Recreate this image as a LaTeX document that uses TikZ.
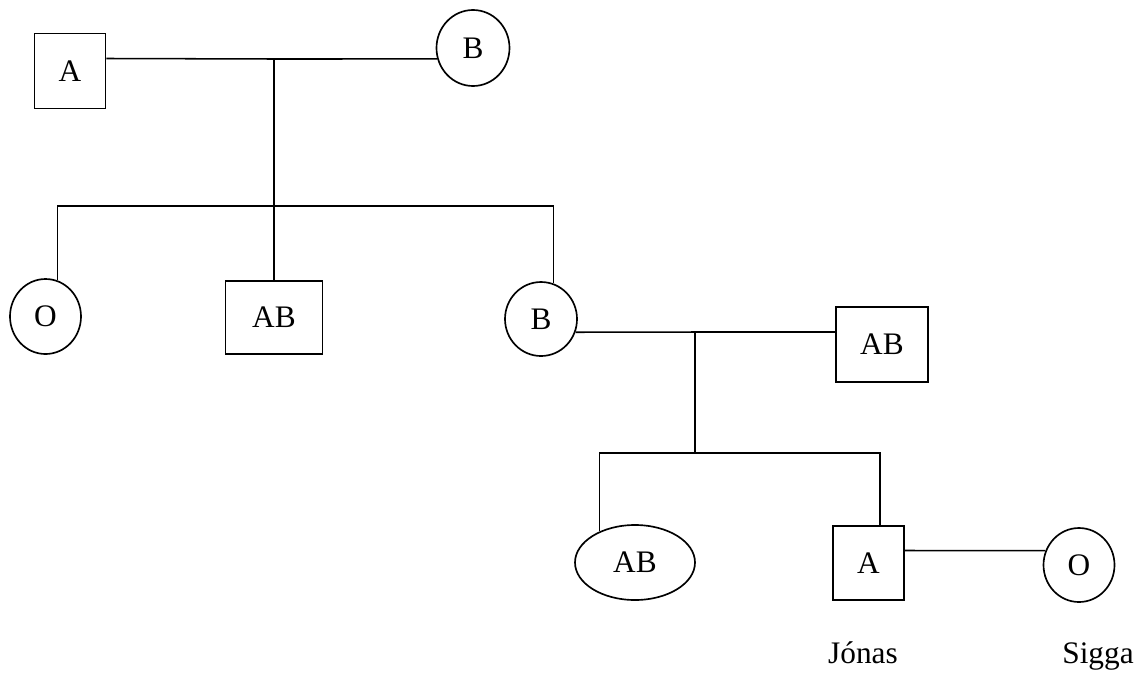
\documentclass[tikz,border=0pt]{standalone}
\usepackage{fontspec}
\setmainfont{Liberation Serif}
\usetikzlibrary{shapes.geometric}
\begin{document}
\begin{tikzpicture}[x=0.75pt,y=-0.75pt,
  every node/.style={font=\fontsize{23.5}{27}\selectfont, inner sep=0pt},
  male/.style={draw, rectangle, line width=1.25pt},
  female/.style={draw, ellipse, line width=1.25pt},
  link/.style={line width=1.15pt},
  pname/.style={anchor=base}]
\useasboundingbox (0,0) rectangle (1138,672);
% generation 1
\node[male, minimum width=71*0.75pt, minimum height=75*0.75pt] (A1) at (70,71) {A};
\node[female, minimum width=73*0.75pt, minimum height=76*0.75pt] (B1) at (473,48) {B};
% generation 2
\node[female, minimum width=71*0.75pt, minimum height=75*0.75pt] (O2) at (45.5,316.5) {O};
\node[male, minimum width=97*0.75pt, minimum height=73*0.75pt] (AB2) at (274,317.5) {AB};
\node[female, minimum width=72*0.75pt, minimum height=74*0.75pt] (B2) at (541,319) {B};
\node[male, minimum width=92*0.75pt, minimum height=75*0.75pt] (AB2b) at (882,344.5) {AB};
% generation 3
\node[female, minimum width=120*0.75pt, minimum height=75*0.75pt] (AB3) at (635,562.5) {AB};
\node[male, minimum width=71*0.75pt, minimum height=74*0.75pt] (A3) at (868.5,563) {A};
\node[female, minimum width=71*0.75pt, minimum height=74*0.75pt] (O3) at (1079,565) {O};
% names
\node[pname] (jonas) at (863,663) {Jónas};
\node[pname] (sigga) at (1098,663) {Sigga};
% junctions
\coordinate (m1) at (274,59);
\coordinate (s1) at (274,206);
\coordinate (m2) at (695,332);
\coordinate (s2) at (695,453);
% connectors
\draw[link] (A1.19) -- (m1) -- (B1.197);
\draw[link] (m1) -- (AB2.north);
\draw[link] (O2.72) |- (s1) -| (B2.71);
\draw[link] (B2.339) -- (m2) -- (AB2b.west |- m2);
\draw[link] (m2) -- (s2);
\draw[link] (AB3.139) |- (s2) -| (A3.73);
\draw[link] (A3.19) -- (O3.157);
\end{tikzpicture}
\end{document}
